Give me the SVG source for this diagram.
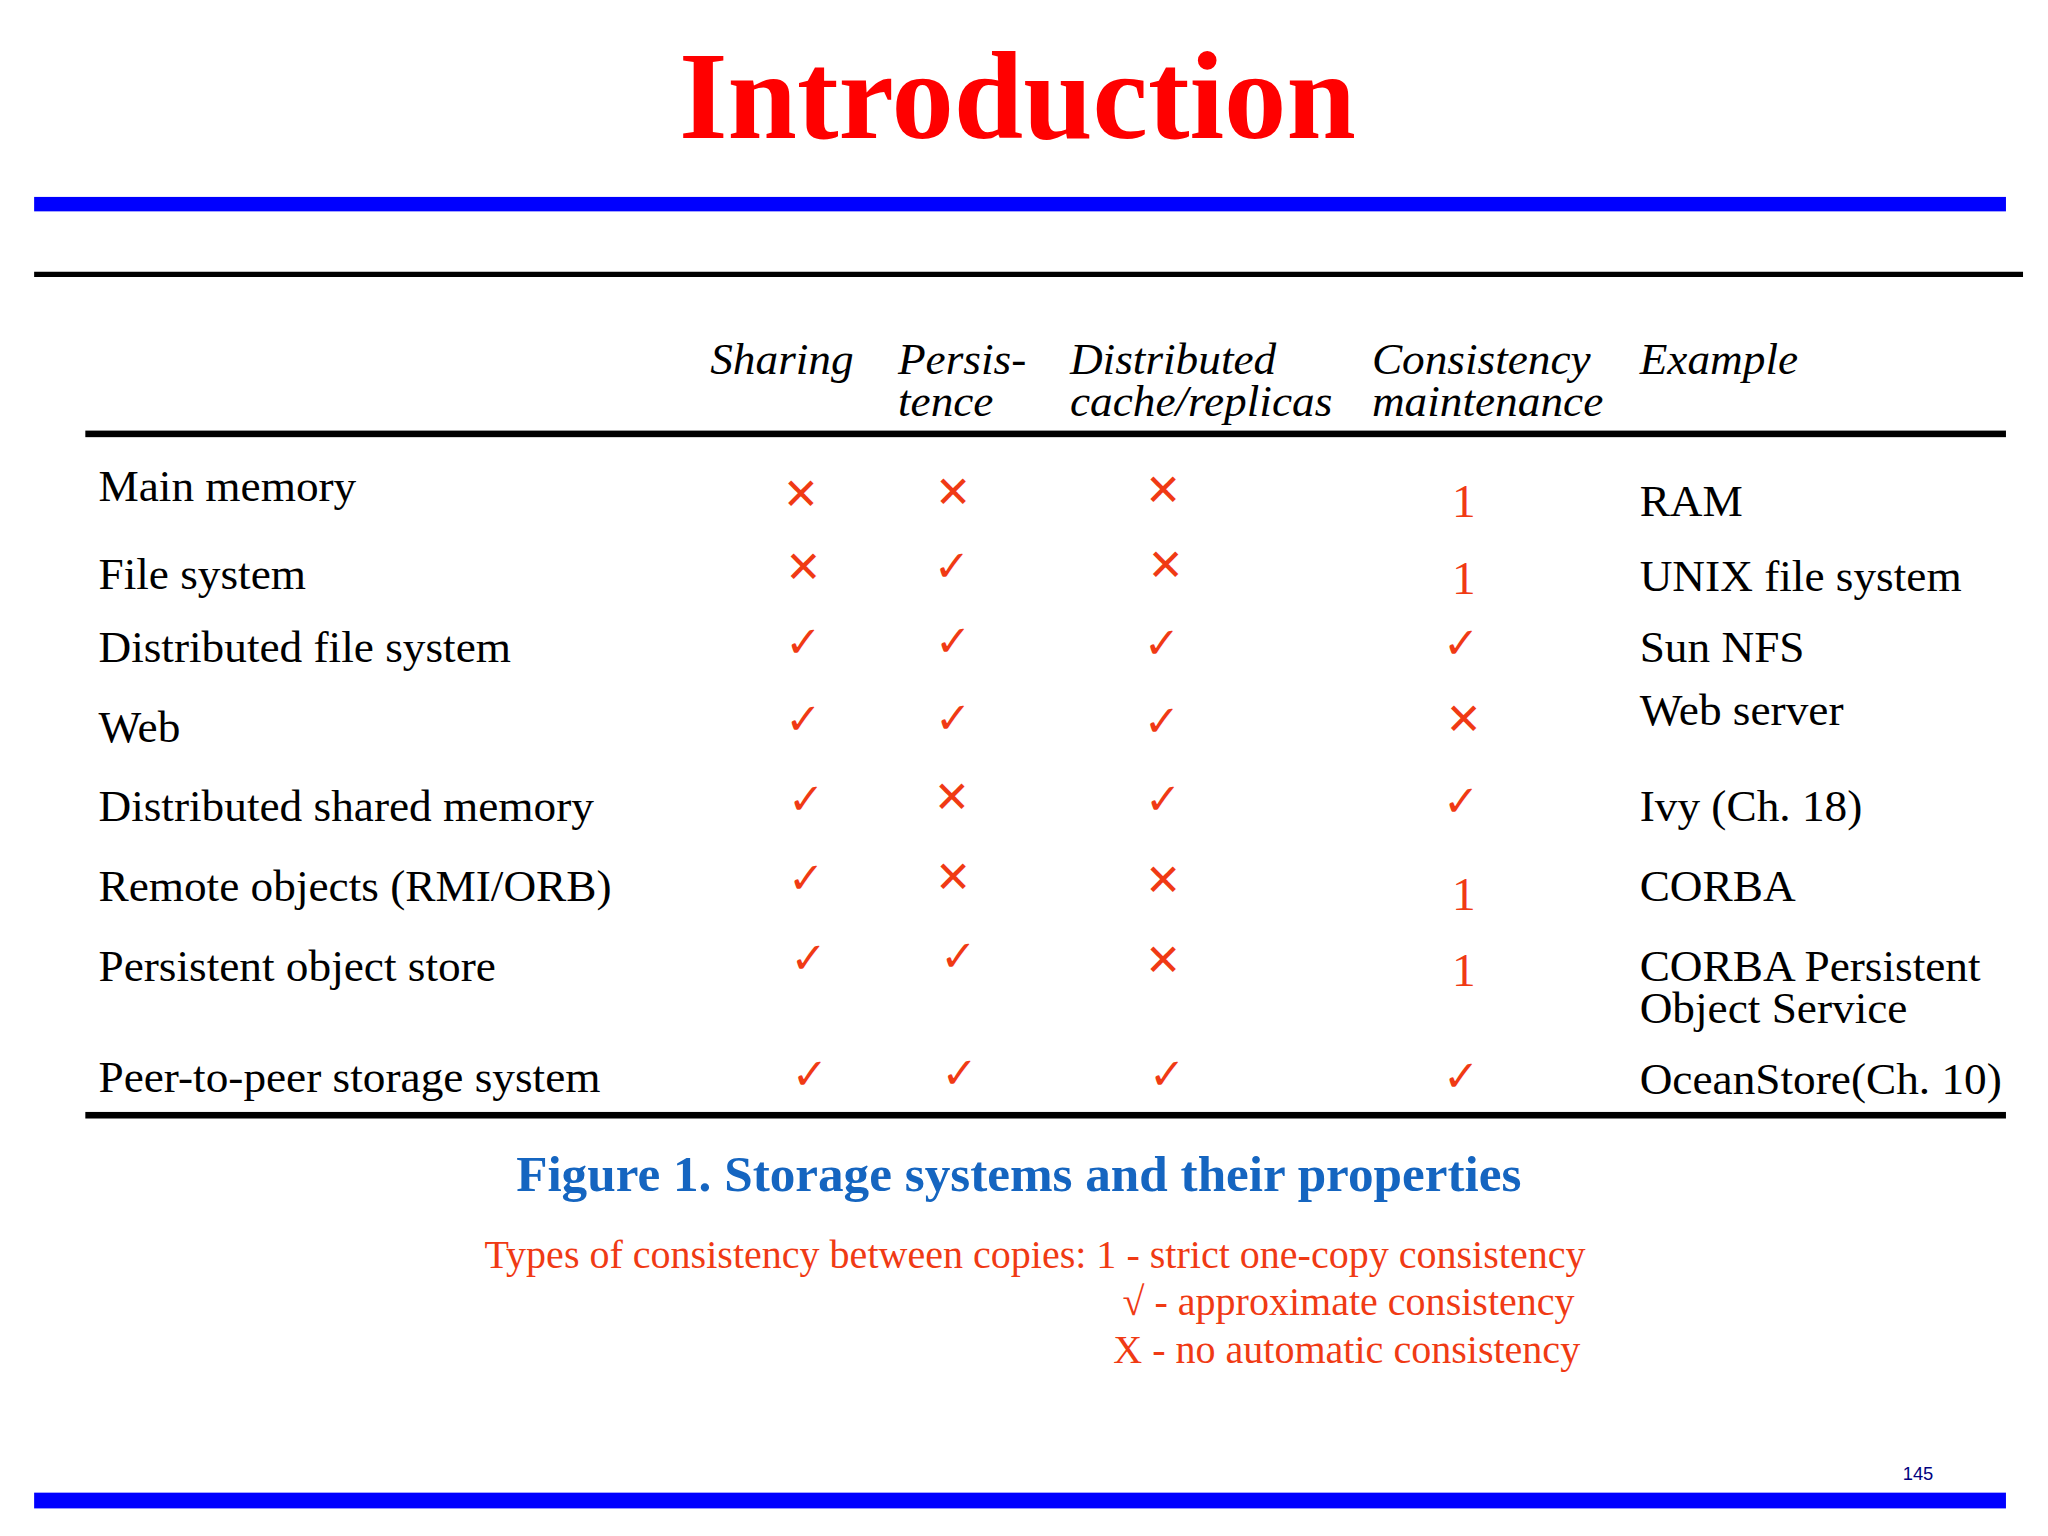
<svg xmlns="http://www.w3.org/2000/svg" width="2048" height="1536" viewBox="0 0 2048 1536">
<style>
.t{font-family:"Liberation Serif",serif;font-size:34.5px;fill:#000}
.h{font-family:"Liberation Serif",serif;font-style:italic;font-size:34.5px;fill:#000}
.m{font-family:"DejaVu Sans",sans-serif;font-size:33px;fill:#F03A14;text-anchor:middle;dominant-baseline:central}
.one{font-family:"Liberation Serif",serif;font-size:36px;fill:#F03A14;text-anchor:middle;dominant-baseline:central}
.lg{font-family:"Liberation Serif",serif;font-size:30.5px;fill:#F03A14}
</style>
<rect width="2048" height="1536" fill="#fff"/>
<g transform="scale(1.3128)">
<g id="title"><text x="775" y="105" text-anchor="middle" font-family="Liberation Serif,serif" font-weight="bold" font-size="95" fill="#FF0000">Introduction</text></g>
<g id="rules">
<rect x="26" y="150" width="1502" height="11" fill="#0000FF"/>
<rect x="26" y="207" width="1515" height="4" fill="#000"/>
<rect x="65" y="328" width="1463" height="5" fill="#000"/>
<rect x="65" y="847" width="1463" height="5" fill="#000"/>
<rect x="26" y="1137" width="1502" height="12" fill="#0000FF"/>
</g>
<g id="headers">
<text class="h" x="541" y="285">Sharing</text>
<text class="h" x="684" y="285">Persis-</text><text class="h" x="684" y="317">tence</text>
<text class="h" x="815" y="285">Distributed</text><text class="h" x="815" y="317">cache/replicas</text>
<text class="h" x="1045" y="285">Consistency</text><text class="h" x="1045" y="317">maintenance</text>
<text class="h" x="1249" y="285">Example</text>
</g>
<g id="rows">
<text class="t" x="75" y="382">Main memory</text>
<text class="t" x="75" y="449">File system</text>
<text class="t" x="75" y="504">Distributed file system</text>
<text class="t" x="75" y="565">Web</text>
<text class="t" x="75" y="625">Distributed shared memory</text>
<text class="t" x="75" y="686">Remote objects (RMI/ORB)</text>
<text class="t" x="75" y="747">Persistent object store</text>
<text class="t" x="75" y="832">Peer-to-peer storage system</text>
</g>
<g id="examples">
<text class="t" x="1249" y="393">RAM</text>
<text class="t" x="1249" y="450">UNIX file system</text>
<text class="t" x="1249" y="504">Sun NFS</text>
<text class="t" x="1249" y="552">Web server</text>
<text class="t" x="1249" y="625">Ivy (Ch. 18)</text>
<text class="t" x="1249" y="686">CORBA</text>
<text class="t" x="1249" y="747">CORBA Persistent</text>
<text class="t" x="1249" y="779">Object Service</text>
<text class="t" x="1249" y="833">OceanStore(Ch. 10)</text>
</g>
<g id="marks">
<text class="m" x="610" y="376">✕</text><text class="m" x="726" y="375">✕</text><text class="m" x="886" y="373">✕</text><text class="one" x="1115" y="382">1</text>
<text class="m" x="612" y="432">✕</text><text class="m" x="725" y="431">✓</text><text class="m" x="888" y="430">✕</text><text class="one" x="1115" y="440">1</text>
<text class="m" x="612" y="489">✓</text><text class="m" x="726" y="488">✓</text><text class="m" x="885" y="490">✓</text><text class="m" x="1113" y="490">✓</text>
<text class="m" x="612" y="548">✓</text><text class="m" x="726" y="547">✓</text><text class="m" x="885" y="549">✓</text><text class="m" x="1115" y="548">✕</text>
<text class="m" x="614" y="609">✓</text><text class="m" x="725" y="607">✕</text><text class="m" x="886" y="609">✓</text><text class="m" x="1113" y="610">✓</text>
<text class="m" x="614" y="669">✓</text><text class="m" x="726" y="668">✕</text><text class="m" x="886" y="670">✕</text><text class="one" x="1115" y="681">1</text>
<text class="m" x="616" y="730">✓</text><text class="m" x="730" y="728">✓</text><text class="m" x="886" y="731">✕</text><text class="one" x="1115" y="739">1</text>
<text class="m" x="617" y="818">✓</text><text class="m" x="731" y="817">✓</text><text class="m" x="889" y="818">✓</text><text class="m" x="1113" y="820">✓</text>
</g>
<g id="caption"><text x="776" y="907" text-anchor="middle" font-family="Liberation Serif,serif" font-weight="bold" font-size="39" fill="#1565C0">Figure 1. Storage systems and their properties</text></g>
<g id="legend">
<text class="lg" x="369" y="966">Types of consistency between copies:  1 - strict one-copy consistency</text>
<text class="lg" x="855" y="1002">√ - approximate consistency</text>
<text class="lg" x="848" y="1038">X - no automatic consistency</text>
</g>
<g id="page"><text x="1461" y="1127" text-anchor="middle" font-family="Liberation Sans,sans-serif" font-size="14" fill="#000080">145</text></g>
</g>
</svg>
